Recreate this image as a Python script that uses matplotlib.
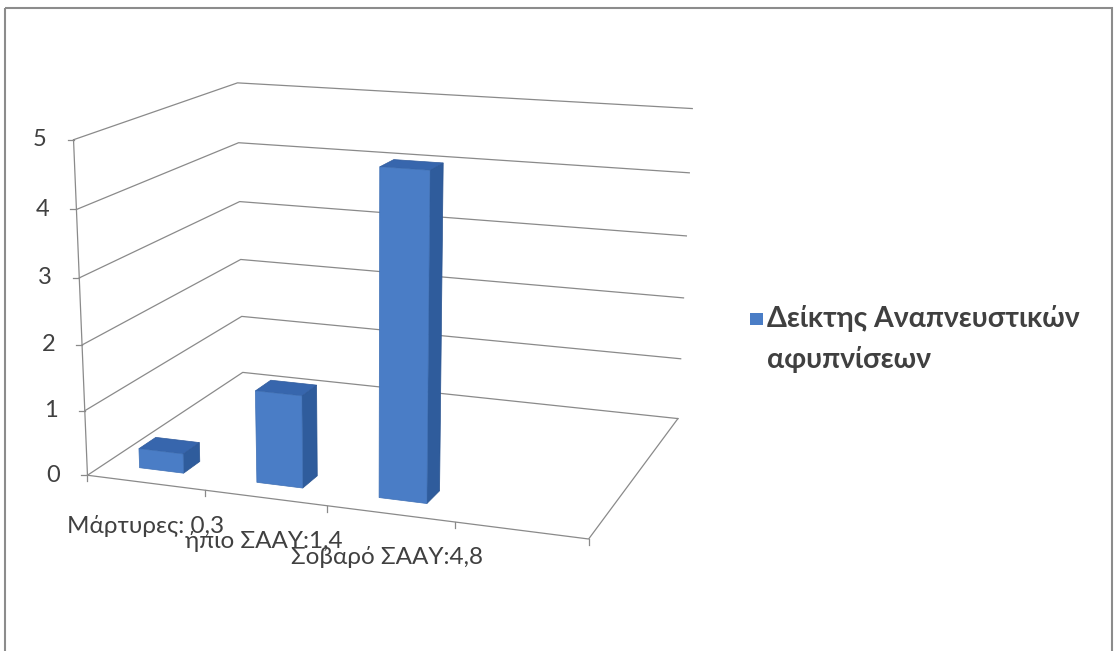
import numpy as np
import matplotlib.pyplot as plt
from matplotlib.patches import Polygon, Rectangle

# Dedomena
categories = ["Μάρτυρες: 0,3", "ήπιο ΣΑΑΥ:1,4", "Σοβαρό ΣΑΑΥ:4,8", ""]
values = [0.3, 1.4, 4.8, np.nan]
yticks = [0, 1, 2, 3, 4, 5]
series_name = "Δείκτης Αναπνευστικών\nαφυπνίσεων"

FONT = ['Lato', 'Noto Sans', 'DejaVu Sans']
plt.rcParams['font.family'] = FONT

# Proboli 3D -> eikona (pixel), prosarmogi kameras (DLT) se simeia tou plaisiou
# (X kategoria, Y vathos, Z timi) -> (px, py)
n_cat = len(categories)
ref = []
front_left = [(88.3, 475), (85.3, 410), (82.3, 343), (79.3, 277), (76.3, 208), (73.3, 141)]
back_left = [(243, 372), (242, 316), (240, 260), (239, 202), (238, 143), (238, 83)]
back_right = [(678, 418), (680, 358), (684, 298), (687, 236), (690, 173), (692, 109)]
for k in range(6):
    ref.append((0, 0, k) + front_left[k])
    ref.append((0, 1, k) + back_left[k])
    ref.append((n_cat, 1, k) + back_right[k])
ref += [(n_cat, 0, 0, 588, 537), (1, 0, 0, 205, 493), (2, 0, 0, 327, 508), (3, 0, 0, 455, 523)]
ref = np.array(ref, dtype=float)

uv = ref[:, 3:]
mu, sc = uv.mean(axis=0), uv.std()
uvn = (uv - mu) / sc
rows = []
for (X, Y, Z), (u, v) in zip(ref[:, :3], uvn):
    rows.append([X, Y, Z, 1, 0, 0, 0, 0, -u * X, -u * Y, -u * Z, -u])
    rows.append([0, 0, 0, 0, X, Y, Z, 1, -v * X, -v * Y, -v * Z, -v])
_, _, vt = np.linalg.svd(np.array(rows))
P = vt[-1].reshape(3, 4)


def proj(X, Y, Z):
    h = P @ np.array([X, Y, Z, 1.0])
    return (h[:2] / h[2]) * sc + mu


fig = plt.figure(figsize=(11.17, 6.51), dpi=100)
ax = fig.add_axes([0, 0, 1, 1])
ax.set_xlim(0, 1117)
ax.set_ylim(651, 0)
ax.axis('off')

# plaisio
ax.add_patch(Rectangle((5, 8), 1107, 650, fill=False, ec='#8c8c8c', lw=1.5))

grid_c = '#8a8a8a'
txt_c = '#404040'
# grammes plegmatos: aristeros toixos + piso toixos
for k in yticks:
    pts = np.array([proj(0, 0, k), proj(0, 1, k), proj(n_cat, 1, k)])
    ax.plot(pts[:, 0], pts[:, 1], color=grid_c, lw=0.9)

# patoma
floor = np.array([proj(0, 0, 0), proj(n_cat, 0, 0), proj(n_cat, 1, 0)])
ax.plot(floor[:, 0], floor[:, 1], color=grid_c, lw=0.9)

# axonas timon
ax_line = np.array([proj(0, 0, 0), proj(0, 0, yticks[-1])])
ax.plot(ax_line[:, 0], ax_line[:, 1], color=grid_c, lw=0.9)
for k in yticks:
    x, y = proj(0, 0, k)
    ax.plot([x - 6, x], [y, y], color=grid_c, lw=0.9)
    ax.text(x - 27, y, str(k), ha='right', va='center', fontsize=17, color=txt_c)

# ticks kategorion
for i in range(n_cat + 1):
    x, y = proj(i, 0, 0)
    ax.plot([x, x], [y, y + 6], color=grid_c, lw=0.9)

# mpares
a, b = 0.3, 0.68
yf, yb = 0.1, 0.2
for i, v in enumerate(values):
    if np.isnan(v):
        continue
    x0, x1 = i + a, i + b
    front = [proj(x0, yf, 0), proj(x1, yf, 0), proj(x1, yf, v), proj(x0, yf, v)]
    side = [proj(x1, yf, 0), proj(x1, yb, 0), proj(x1, yb, v), proj(x1, yf, v)]
    top = [proj(x0, yf, v), proj(x1, yf, v), proj(x1, yb, v), proj(x0, yb, v)]
    ax.add_patch(Polygon(side, closed=True, fc='#2f5c9c', ec='#2a5490', lw=0.5, zorder=3))
    ax.add_patch(Polygon(top, closed=True, fc='#3766ad', ec='#2f5a9c', lw=0.5, zorder=3))
    ax.add_patch(Polygon(front, closed=True, fc='#4a7dc6', ec='#3f70b5', lw=0.5, zorder=3))

# etiketes kategorion
for i, lab in enumerate(categories):
    if not lab:
        continue
    x, y = proj(i + 0.5, 0, 0)
    ax.text(x - 2 * i, y + 50, lab, ha='center', va='baseline', fontsize=17.5, color=txt_c)

# ypomnima
ax.add_patch(Rectangle((750, 313), 13, 12, fc='#4a7dc6', ec='none'))
for j, line in enumerate(series_name.split('\n')):
    ax.text(767, 327 + 41 * j, line, ha='left', va='baseline', fontsize=20.5,
            fontweight='bold', color=txt_c)

plt.savefig('out.png', dpi=100)
